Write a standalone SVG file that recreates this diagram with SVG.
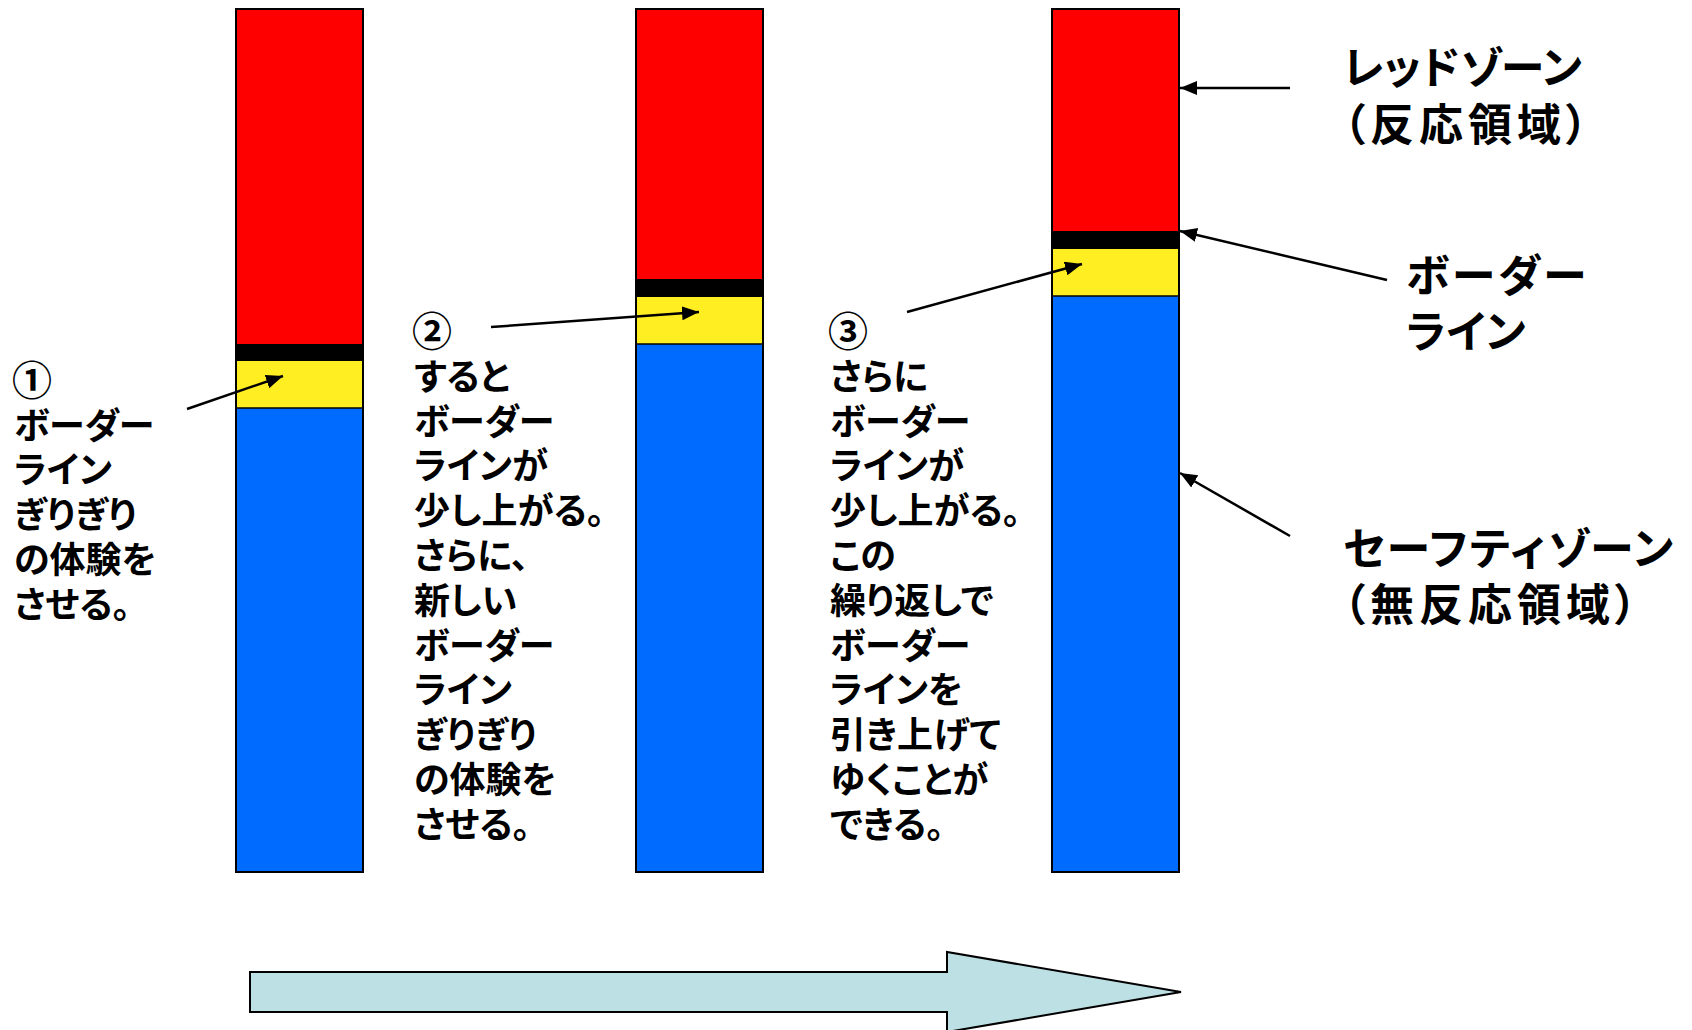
<svg xmlns="http://www.w3.org/2000/svg" width="1692" height="1030" viewBox="0 0 1692 1030">
<style>
.t{font-family:"Noto Sans CJK JP","Noto Sans",sans-serif;font-weight:bold;fill:#000;font-feature-settings:"palt";}
.s{font-size:36px;}
.n{font-size:40px;}
.l{font-size:44px;}
.p{letter-spacing:5px;}
.red{fill:#FF0000;}
.blk{fill:#000;}
.yel{fill:#FFEE22;}
.blu{fill:#006CFF;}
.out{fill:none;stroke:#000;stroke-width:2;}
.c{stroke:#000;stroke-width:2.5;fill:none;marker-end:url(#ah);}
</style>
<defs>
<marker id="ah" markerUnits="userSpaceOnUse" markerWidth="20" markerHeight="16" refX="17" refY="7" orient="auto">
<path d="M0,0 L17,7 L0,14 z" fill="#000"/>
</marker>
</defs>
<rect width="1692" height="1030" fill="#fff"/>
<g id="bar1">
<rect class="red" x="236" y="9" width="127" height="335"/>
<rect class="blk" x="236" y="344" width="127" height="17"/>
<rect class="yel" x="236" y="361" width="127" height="47"/>
<rect class="blu" x="236" y="408" width="127" height="464"/>
<line x1="236" y1="408" x2="363" y2="408" stroke="#000" stroke-width="1.5"/>
<rect class="out" x="236" y="9" width="127" height="863"/>
</g>
<g id="bar2">
<rect class="red" x="636" y="9" width="127" height="270"/>
<rect class="blk" x="636" y="279" width="127" height="18"/>
<rect class="yel" x="636" y="297" width="127" height="47"/>
<rect class="blu" x="636" y="344" width="127" height="528"/>
<line x1="636" y1="344" x2="763" y2="344" stroke="#000" stroke-width="1.5"/>
<rect class="out" x="636" y="9" width="127" height="863"/>
</g>
<g id="bar3">
<rect class="red" x="1052" y="9" width="127" height="222"/>
<rect class="blk" x="1052" y="231" width="127" height="18"/>
<rect class="yel" x="1052" y="249" width="127" height="47"/>
<rect class="blu" x="1052" y="296" width="127" height="576"/>
<line x1="1052" y1="296" x2="1179" y2="296" stroke="#000" stroke-width="1.5"/>
<rect class="out" x="1052" y="9" width="127" height="863"/>
</g>
<g id="text1" class="t s">
<text class="n" x="12" y="395">①</text>
<text x="14" y="439">ボーダー</text>
<text x="14" y="483">ライン</text>
<text x="14" y="528">ぎりぎり</text>
<text x="14" y="573">の体験を</text>
<text x="14" y="618">させる。</text>
</g>
<g id="text2" class="t s">
<text class="n" x="412" y="346">②</text>
<text x="414" y="390">すると</text>
<text x="414" y="435">ボーダー</text>
<text x="414" y="479">ラインが</text>
<text x="414" y="524">少し上がる。</text>
<text x="414" y="569">さらに、</text>
<text x="414" y="614">新しい</text>
<text x="414" y="659">ボーダー</text>
<text x="414" y="703">ライン</text>
<text x="414" y="748">ぎりぎり</text>
<text x="414" y="793">の体験を</text>
<text x="414" y="838">させる。</text>
</g>
<g id="text3" class="t s">
<text class="n" x="828" y="346">③</text>
<text x="830" y="390">さらに</text>
<text x="830" y="435">ボーダー</text>
<text x="830" y="479">ラインが</text>
<text x="830" y="524">少し上がる。</text>
<text x="830" y="569">この</text>
<text x="830" y="614">繰り返しで</text>
<text x="830" y="659">ボーダー</text>
<text x="830" y="703">ラインを</text>
<text x="830" y="748">引き上げて</text>
<text x="830" y="793">ゆくことが</text>
<text x="830" y="838">できる。</text>
</g>
<g id="label-red" class="t l">
<text x="1343" y="84">レッドゾーン</text>
<text class="p" x="1343" y="141">（反応領域）</text>
</g>
<g id="label-border" class="t l">
<text x="1406" y="292" letter-spacing="3">ボーダー</text>
<text x="1406" y="348">ライン</text>
</g>
<g id="label-safe" class="t l">
<text x="1343" y="565" letter-spacing="2">セーフティゾーン</text>
<text class="p" x="1343" y="621">（無反応領域）</text>
</g>
<g id="connectors">
<line class="c" x1="187" y1="409" x2="283" y2="376"/>
<line class="c" x1="491" y1="327" x2="699" y2="312"/>
<line class="c" x1="907" y1="312" x2="1082" y2="264"/>
<line class="c" x1="1290" y1="88" x2="1180" y2="88"/>
<line class="c" x1="1387" y1="280" x2="1180" y2="231"/>
<line class="c" x1="1290" y1="536" x2="1180" y2="473"/>
</g>
<g id="progress-arrow">
<path d="M250,972 L947,972 L947,952 L1181,992 L947,1032 L947,1012 L250,1012 Z" fill="#BCE0E4" stroke="#000" stroke-width="2"/>
</g>
</svg>
